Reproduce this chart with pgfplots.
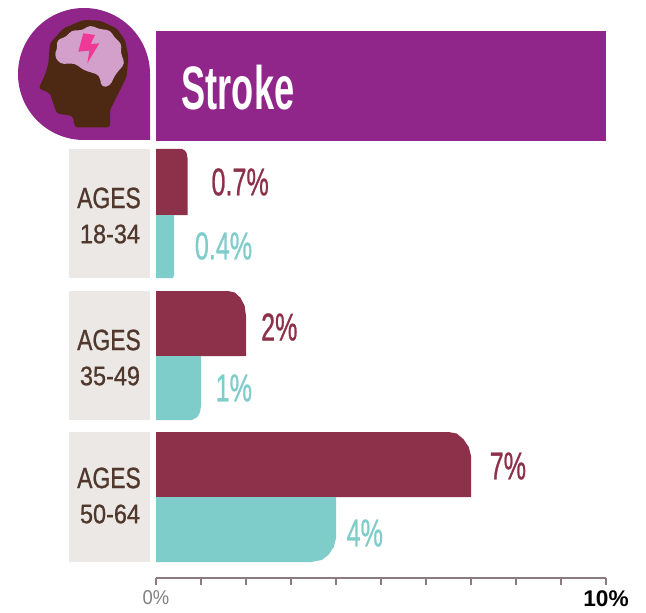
\documentclass[border=0pt]{standalone}
\usepackage{graphicx}
\usepackage{fontspec}
\setmainfont{Liberation Sans}
\newfontfamily\medfont[FakeBold=0.9]{Liberation Sans}
\usepackage{pgfplots}
\pgfplotsset{compat=1.18}
\definecolor{cpurple}{HTML}{91268A}
\definecolor{cmaroon}{HTML}{8D3049}
\definecolor{ccyan}{HTML}{7FCDCA}
\definecolor{cbrown}{HTML}{4D2812}
\definecolor{clilac}{HTML}{D3A0CC}
\definecolor{cpink}{HTML}{EE3A96}
\definecolor{cgreybox}{HTML}{EBE8E5}
\definecolor{cagetext}{HTML}{50382C}
\definecolor{caxis}{HTML}{8B7B80}
\newcommand{\pct}[3]{\fontsize{#1}{#1}\selectfont\scalebox{#2}[1]{#3}}
\begin{document}
\begin{tikzpicture}[x=0.75pt,y=-0.75pt]
\fill[white] (0,0) rectangle (646,613);
% icon
\fill[cpurple] (150,140) -- (84,140) arc[start angle=90,end angle=270,radius=66] -- (84,8)
  arc[start angle=-90,end angle=0,radius=66] -- cycle;
\begin{scope}[x=0.25pt,y=-0.25pt]
\fill[cbrown,rounded corners=2pt] (250,60)--(300,62)--(350,85)--(375,120)--(385,170)--(380,230)--(350,290)--(330,330)--(330,382)--(225,382)--(218,348)--(170,340)--(158,305)--(150,280)--(116,265)--(135,225)--(145,190)--(150,130)--(190,85)--cycle;
\fill[clilac,rounded corners=3pt] (162,165)--(172,150)--(170,120)--(200,110)--(215,90)--(245,92)--(270,75)--(300,88)--(330,90)--(345,115)--(365,130)--(362,160)--(375,190)--(345,225)--(330,258)--(305,262)--(298,225)--(250,210)--(225,190)--(180,192)--cycle;
\fill[cpink] (250,100)--(285,105)--(272,132)--(298,130)--(262,190)--(268,152)--(235,155)--cycle;
\end{scope}
% header
\fill[cpurple] (156,31) rectangle (606,141);
\node[text=white,inner sep=0pt] at (238,88) {\pct{46pt}{0.59}{\textbf{Stroke}}};
% age boxes
\fill[cgreybox] (69,149) rectangle (150,278);
\fill[cgreybox] (69,291) rectangle (150,420);
\fill[cgreybox] (69,432) rectangle (150,562);
\foreach \yy/\lab in {198/18-34,340/35-49,478/50-64}{
  \node[text=cagetext,inner sep=0pt] at (109,\yy) {\medfont\pct{22pt}{0.78}{AGES}};
  \node[text=cagetext,inner sep=0pt] at (110,\yy+36) {\medfont\pct{20pt}{0.88}{\lab}};
}
\begin{axis}[
  at={(117pt,-433.5pt)},anchor=origin,
  x=33.75pt,y=0.75pt,
  xmin=0,xmax=10,ymin=0,ymax=578,
  clip=false,
  axis x line=bottom,
  axis y line=none,
  axis line style={draw=caxis,line width=0.8pt,-},
  xtick={0,1,2,3,4,5,6,7,8,9,10},
  xticklabels={{\textcolor{gray}{\scalebox{0.92}[1]{0\%}}},,,,,,,,,,{\raisebox{-2pt}{\fontsize{17pt}{17pt}\selectfont\textbf{10\%}}}},
  x tick label style={font=\fontsize{15pt}{15pt}\selectfont,yshift=-1pt},
  tick style={draw=caxis,line width=0.8pt},
  major tick length=5pt,
  tick align=outside,
  xtick pos=bottom,
]
% 18-34 (y = 578 - pixel row)
\addplot[fill=cmaroon,draw=none] coordinates {(0,429)(0.58,429)(0.64,427.5)(0.68,425)(0.7,420)(0.7,363)(0,363)} -- cycle;
\addplot[fill=ccyan,draw=none] coordinates {(0,363)(0.4,363)(0.4,303)(0.38,300)(0,300)} -- cycle;
% 35-49
\addplot[fill=cmaroon,draw=none] coordinates {(0,287)(1.6,287)(1.75,285.5)(1.88,280)(1.97,272)(2,262)(2,222)(0,222)} -- cycle;
\addplot[fill=ccyan,draw=none] coordinates {(0,222)(1,222)(1,172)(0.98,166)(0.92,161)(0.8,158)(0,158)} -- cycle;
% 50-64
\addplot[fill=cmaroon,draw=none] coordinates {(0,146)(6.5,146)(6.68,144.5)(6.83,139)(6.95,131)(7,122)(7,81)(0,81)} -- cycle;
\addplot[fill=ccyan,draw=none] coordinates {(0,81)(4,81)(4,40)(3.95,31)(3.83,23)(3.68,18)(3.45,16)(0,16)} -- cycle;
\node[text=cmaroon] at (axis cs:1.87,396) {\medfont\pct{29pt}{0.65}{0.7\%}};
\node[text=ccyan] at (axis cs:1.5,332) {\medfont\pct{29pt}{0.65}{0.4\%}};
\node[text=cmaroon] at (axis cs:2.74,251) {\medfont\pct{29pt}{0.65}{2\%}};
\node[text=ccyan] at (axis cs:1.73,190) {\medfont\pct{29pt}{0.65}{1\%}};
\node[text=cmaroon] at (axis cs:7.82,112) {\medfont\pct{29pt}{0.65}{7\%}};
\node[text=ccyan] at (axis cs:4.64,45) {\medfont\pct{29pt}{0.65}{4\%}};
\end{axis}
\end{tikzpicture}
\end{document}
